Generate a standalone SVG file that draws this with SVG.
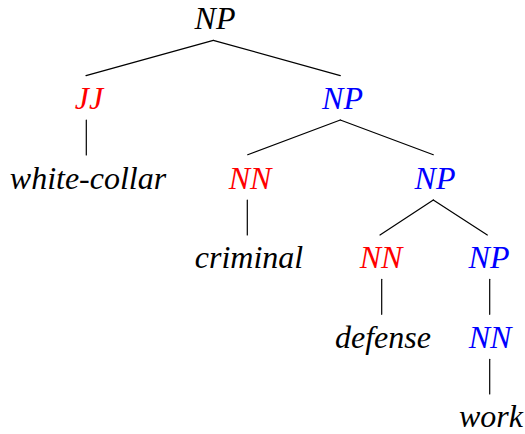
<svg xmlns="http://www.w3.org/2000/svg" width="525" height="434" viewBox="0 0 525 434">
  <style>
    .edges line { stroke: #000000; stroke-width: 1.2; stroke-linecap: round; }
    text { font-family: "Liberation Serif", "Times New Roman", serif; font-style: italic; font-size: 32px; text-anchor: middle; }
    .word { fill: #000000; }
    .tag { fill: #ff0000; }
    .phrase { fill: #0000ff; }
  </style>
  <rect width="525" height="434" fill="#ffffff"/>

  <!-- tree edges -->
  <g id="edges" class="edges">
    <line x1="213.3" y1="40.3" x2="86" y2="75.7"/>
    <line x1="213.3" y1="40.3" x2="340.3" y2="75.7"/>
    <line x1="86.3" y1="120" x2="86.3" y2="155"/>
    <line x1="340.3" y1="120" x2="247.7" y2="154.7"/>
    <line x1="340.3" y1="120" x2="433.3" y2="154.7"/>
    <line x1="247.3" y1="200" x2="247.3" y2="235"/>
    <line x1="433.3" y1="200" x2="380" y2="235"/>
    <line x1="433.3" y1="200" x2="487.3" y2="235"/>
    <line x1="381.7" y1="279.3" x2="381.7" y2="314.3"/>
    <line x1="489.7" y1="279.3" x2="489.7" y2="314.3"/>
    <line x1="489.7" y1="359.3" x2="489.7" y2="394"/>
  </g>

  <!-- nodes: black = words and root, red = word-level tags, blue = phrase tags -->
  <g id="np-root"><text class="word" x="215" y="29">NP</text></g>
  <g id="jj"><text class="tag" x="89" y="109">JJ</text></g>
  <g id="np-1"><text class="phrase" x="342.5" y="109">NP</text></g>
  <g id="word-white-collar"><text class="word" x="88" y="189">white-collar</text></g>
  <g id="nn-1"><text class="tag" x="250" y="189">NN</text></g>
  <g id="np-2"><text class="phrase" x="435" y="189">NP</text></g>
  <g id="word-criminal"><text class="word" x="249" y="268">criminal</text></g>
  <g id="nn-2"><text class="tag" x="381" y="268">NN</text></g>
  <g id="np-3"><text class="phrase" x="489" y="268">NP</text></g>
  <g id="word-defense"><text class="word" x="383" y="348">defense</text></g>
  <g id="nn-3"><text class="phrase" x="490" y="348">NN</text></g>
  <g id="word-work"><text class="word" x="491" y="427">work</text></g>
</svg>
